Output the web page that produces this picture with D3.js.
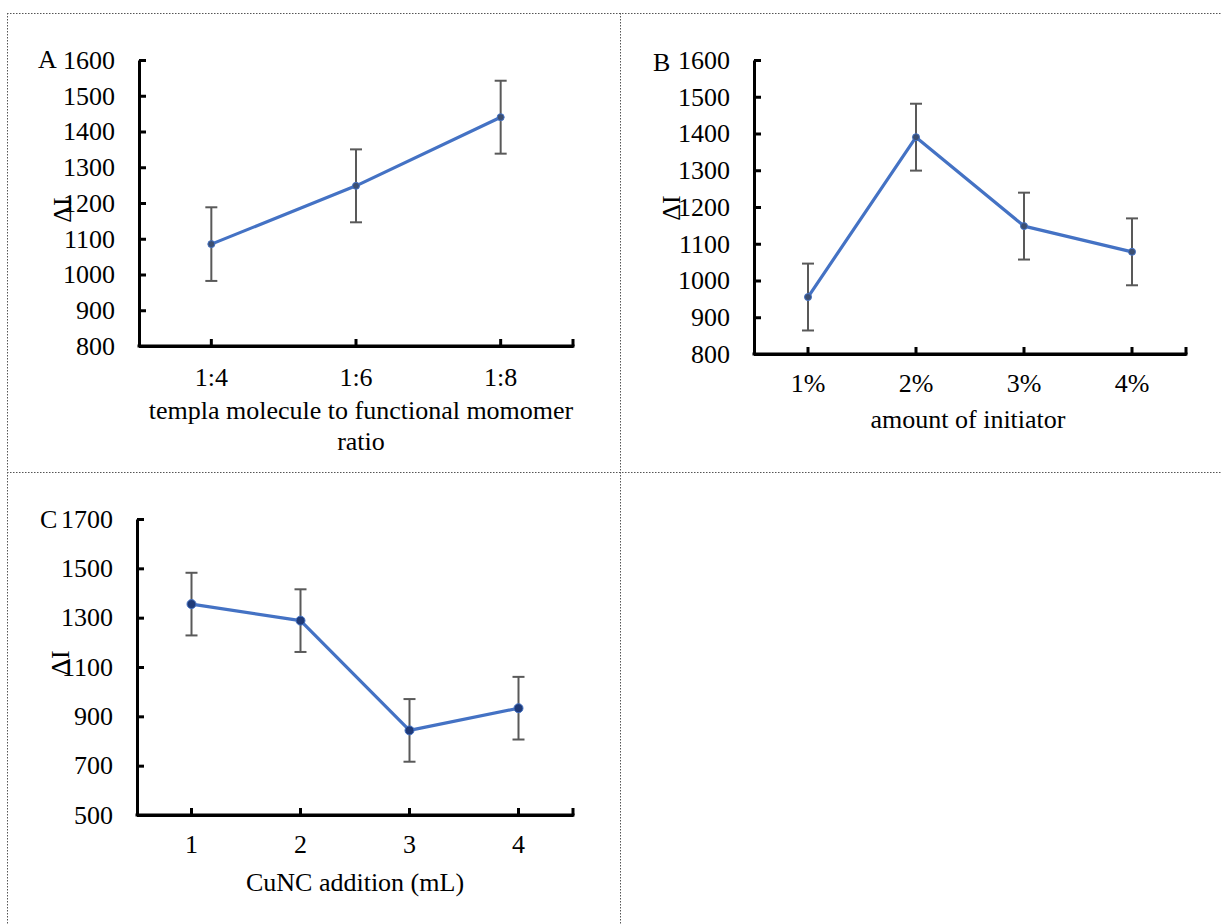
<!DOCTYPE html>
<html>
<head>
<meta charset="utf-8">
<script src="https://cdn.jsdelivr.net/npm/d3@7"></script>
<style>
  html, body { margin: 0; padding: 0; background: #fff; }
  svg { display: block; }
  text { font-family: "Liberation Serif", "Times New Roman", serif; fill: #000; }
</style>
</head>
<body>
<svg id="chart" width="1222" height="924"></svg>
<script>
// ---------- Data ----------
const catsA = ["1:4", "1:6", "1:8"];
const valsA = [1085, 1248, 1440];
const errA  = [103, 102, 102];
const ticksA = [800, 900, 1000, 1100, 1200, 1300, 1400, 1500, 1600];

const catsB = ["1%", "2%", "3%", "4%"];
const valsB = [955, 1390, 1148, 1078];
const errB  = [91, 91, 91, 91];
const ticksB = [800, 900, 1000, 1100, 1200, 1300, 1400, 1500, 1600];

const catsC = ["1", "2", "3", "4"];
const valsC = [1355, 1288, 843, 933];
const errC  = [127, 127, 127, 127];
const ticksC = [500, 700, 900, 1100, 1300, 1500, 1700];

const FONT = "'Liberation Serif', 'Times New Roman', serif";
const FS = "26px";
const svg = d3.select("#chart");

// ---------- Dotted frame ----------
const frame = svg.append("g").attr("stroke", "#555").attr("stroke-width", 1)
  .attr("stroke-dasharray", "1.5,1.5").attr("fill", "none");
frame.append("line").attr("x1", 7).attr("x2", 1222).attr("y1", 13.5).attr("y2", 13.5);
frame.append("line").attr("x1", 7.5).attr("x2", 7.5).attr("y1", 13).attr("y2", 924);
frame.append("line").attr("x1", 620.5).attr("x2", 620.5).attr("y1", 13).attr("y2", 924);
frame.append("line").attr("x1", 7).attr("x2", 1222).attr("y1", 472.5).attr("y2", 472.5);

function panel(cfg) {
  const g = svg.append("g");
  const x = d3.scaleBand().domain(cfg.cats).range([cfg.x0, cfg.x1]);
  const y = d3.scaleLinear().domain([cfg.ticks[0], cfg.ticks[cfg.ticks.length - 1]]).range([cfg.y1, cfg.y0]);
  const cx = c => x(c) + x.bandwidth() / 2;

  // Y axis
  const ya = d3.axisLeft(y).tickValues(cfg.ticks).tickFormat(d3.format("d"))
    .tickSize(-7).tickPadding(24).tickSizeOuter(0);
  const yg = g.append("g").attr("transform", `translate(${cfg.x0},0)`)
    .attr("font-family", FONT).attr("font-size", FS).call(ya);
  yg.select(".domain").attr("stroke", "#000").attr("stroke-width", 3);
  yg.selectAll(".tick line").attr("stroke", "#000").attr("stroke-width", 3);
  yg.selectAll(".tick text").style("font-size", FS).style("font-family", FONT).attr("fill", "#000");

  // X axis
  const xa = d3.axisBottom(x).tickSize(0).tickPadding(cfg.xpad).tickSizeOuter(0);
  const xg = g.append("g").attr("transform", `translate(0,${cfg.y1})`)
    .attr("font-family", FONT).attr("font-size", FS).call(xa);
  xg.select(".domain").attr("stroke", "#000").attr("stroke-width", 3);
  xg.selectAll(".tick text").style("font-size", FS).style("font-family", FONT).attr("fill", "#000");
  // inward ticks at category centres and axis end
  const xt = cfg.cats.map(cx).concat([cfg.x1]);
  g.selectAll(null).data(xt).enter().append("line")
    .attr("x1", d => d).attr("x2", d => d)
    .attr("y1", cfg.y1).attr("y2", cfg.y1 - 7)
    .attr("stroke", "#000").attr("stroke-width", 3);
  g.append("line").attr("x1", cfg.x0 - 1.5).attr("x2", cfg.x1 + 1.5)
    .attr("y1", cfg.y1).attr("y2", cfg.y1).attr("stroke", "#000").attr("stroke-width", 3);

  // Error bars
  const eb = g.append("g").attr("stroke", "#595959").attr("stroke-width", 2);
  cfg.cats.forEach((c, i) => {
    const v = cfg.vals[i], e = cfg.err[i], px = cx(c);
    eb.append("line").attr("x1", px).attr("x2", px).attr("y1", y(v + e)).attr("y2", y(v - e));
    eb.append("line").attr("x1", px - 6).attr("x2", px + 6).attr("y1", y(v + e)).attr("y2", y(v + e));
    eb.append("line").attr("x1", px - 6).attr("x2", px + 6).attr("y1", y(v - e)).attr("y2", y(v - e));
  });

  // Line
  const line = d3.line().x((d, i) => cx(cfg.cats[i])).y(d => y(d));
  g.append("path").datum(cfg.vals).attr("d", line)
    .attr("fill", "none").attr("stroke", "#4472C4").attr("stroke-width", 3.2)
    .attr("stroke-linejoin", "round");

  // Markers
  g.selectAll(null).data(cfg.vals).enter().append("circle")
    .attr("cx", (d, i) => cx(cfg.cats[i])).attr("cy", d => y(d))
    .attr("r", cfg.mr).attr("fill", cfg.mc).attr("stroke", "#4472C4").attr("stroke-width", 1);

  // Y title
  g.append("text").attr("transform", `translate(${cfg.ytx},${cfg.yty}) rotate(-90)`)
    .attr("text-anchor", "middle").attr("dominant-baseline", "central")
    .style("font-size", FS).style("font-family", FONT).text("ΔI");

  // Panel letter
  g.append("text").attr("x", cfg.lx).attr("y", cfg.ly)
    .style("font-size", FS).style("font-family", FONT).text(cfg.letter);

  // X title
  cfg.xtitle.forEach((t, i) => {
    g.append("text").attr("x", cfg.xtx).attr("y", cfg.xty + i * 31)
      .attr("text-anchor", "middle").style("font-size", FS).style("font-family", FONT).text(t);
  });
}

panel({ cats: catsA, vals: valsA, err: errA, ticks: ticksA,
  x0: 139, x1: 573, y0: 60, y1: 346, xpad: 22, mr: 3.5, mc: "#3C4F72",
  ytx: 62, yty: 210, lx: 38, ly: 68, letter: "A",
  xtitle: ["templa molecule to functional momomer", "ratio"], xtx: 361, xty: 419 });

panel({ cats: catsB, vals: valsB, err: errB, ticks: ticksB,
  x0: 754, x1: 1186, y0: 60, y1: 354, xpad: 20, mr: 3.5, mc: "#3C4F72",
  ytx: 671, yty: 208, lx: 653, ly: 71, letter: "B",
  xtitle: ["amount of initiator"], xtx: 968, xty: 428 });

panel({ cats: catsC, vals: valsC, err: errC, ticks: ticksC,
  x0: 137, x1: 573, y0: 519, y1: 815, xpad: 20, mr: 4.5, mc: "#1F3A78",
  ytx: 60, yty: 663, lx: 40, ly: 528, letter: "C",
  xtitle: ["CuNC addition (mL)"], xtx: 355, xty: 891 });
</script>
</body>
</html>
